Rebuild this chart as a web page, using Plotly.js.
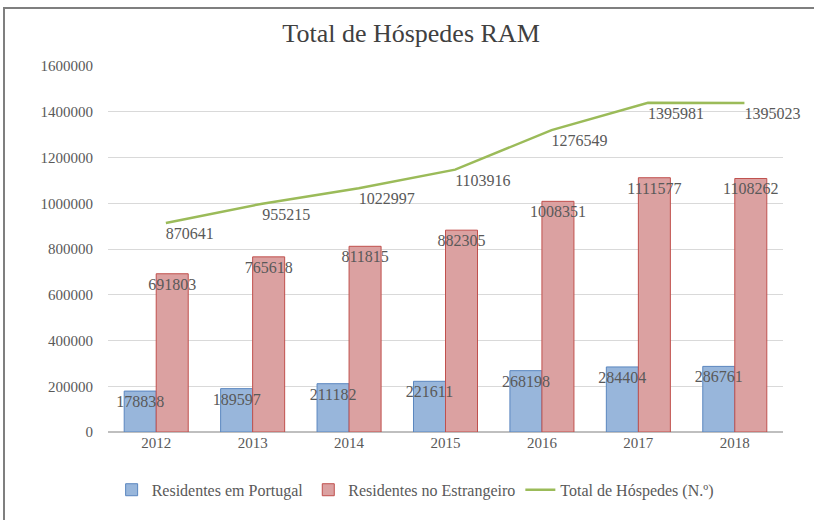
<!DOCTYPE html>
<html>
<head>
<meta charset="utf-8">
<script src="https://cdn.plot.ly/plotly-3.0.1.min.js"></script>
<style>
html,body{margin:0;padding:0;background:#fff;overflow:hidden;}
#frame{position:absolute;left:3px;top:7px;width:900px;height:600px;border:2px solid #7f7f7f;pointer-events:none;}
</style>
</head>
<body>
<div id="chart" style="width:814px;height:520px;"></div>
<div id="frame"></div>
<script>
var years = ['2012','2013','2014','2015','2016','2017','2018'];
var residentesPortugal = [178838, 189597, 211182, 221611, 268198, 284404, 286761];
var residentesEstrangeiro = [691803, 765618, 811815, 882305, 1008351, 1111577, 1108262];
var totalHospedes = [870641, 955215, 1022997, 1103916, 1276549, 1395981, 1395023];

var serif = 'Liberation Serif';
var txtColor = '#595959';
function labels(arr){ return arr.map(function(v){ return String(v); }); }

var traces = [
  {type:'bar', name:'Residentes em Portugal', x:years, y:residentesPortugal,
   marker:{color:'#98b6db', line:{color:'#5a86bf', width:1}}, hoverinfo:'y'},
  {type:'bar', name:'Residentes no Estrangeiro', x:years, y:residentesEstrangeiro,
   marker:{color:'#dba1a1', line:{color:'#c0504d', width:1}}, hoverinfo:'y'},
  {type:'scatter', mode:'lines', name:'Total de Hóspedes (N.º)', x:years, y:totalHospedes,
   xaxis:'x2', yaxis:'y2', line:{color:'#9bbb59', width:2.5}, hoverinfo:'y'},
  {type:'scatter', mode:'text', showlegend:false, x:years, y:residentesPortugal, xaxis:'x3', yaxis:'y3',
   text:labels(residentesPortugal), textposition:'bottom center', cliponaxis:false,
   textfont:{family:serif, size:16, color:txtColor}, hoverinfo:'skip'},
  {type:'scatter', mode:'text', showlegend:false, x:years, y:residentesEstrangeiro, xaxis:'x4', yaxis:'y3',
   text:labels(residentesEstrangeiro), textposition:'bottom center', cliponaxis:false,
   textfont:{family:serif, size:16, color:txtColor}, hoverinfo:'skip'},
  {type:'scatter', mode:'text', showlegend:false, x:years, y:totalHospedes, xaxis:'x2', yaxis:'y4',
   text:labels(totalHospedes), textposition:'bottom right', cliponaxis:false,
   textfont:{family:serif, size:16, color:txtColor}, hoverinfo:'skip'}
];

var layout = {
  width:814, height:520,
  margin:{l:108, r:31, t:66, b:88},
  paper_bgcolor:'#fff', plot_bgcolor:'#fff',
  title:{text:'Total de Hóspedes RAM', x:0.505, xanchor:'center', y:0.937, yanchor:'middle',
    font:{family:serif, size:26, color:'#404040'}},
  barmode:'group', bargap:0.336, bargroupgap:0,
  xaxis:{type:'category', range:[-0.5,6.5], showgrid:false, zeroline:false, showline:false,
    ticks:'', tickfont:{family:serif, size:15, color:txtColor}},
  xaxis2:{type:'category', overlaying:'x', range:[-0.6,6.4], visible:false},
  xaxis3:{type:'category', overlaying:'x', range:[-0.334,6.666], visible:false},
  xaxis4:{type:'category', overlaying:'x', range:[-0.666,6.334], visible:false},
  yaxis:{range:[0,1600000], dtick:200000, tickformat:'d', showgrid:true, gridcolor:'#d9d9d9', gridwidth:1,
    zeroline:true, zerolinecolor:'#bfbfbf', zerolinewidth:1.5, showline:false, ticks:'',
    ticklabelstandoff:14, tickfont:{family:serif, size:15, color:txtColor}},
  yaxis2:{overlaying:'y', range:[-43000,1557000], visible:false},
  yaxis3:{overlaying:'y', range:[17500,1617500], visible:false},
  yaxis4:{overlaying:'y', range:[-25500,1574500], visible:false},
  showlegend:true,
  legend:{orientation:'h', x:0.455, xanchor:'center', y:-0.158, yanchor:'middle',
    font:{family:serif, size:16, color:txtColor}, itemwidth:30, tracegroupgap:0},
};

Plotly.newPlot('chart', traces, layout, {displayModeBar:false, staticPlot:true});
</script>
</body>
</html>
